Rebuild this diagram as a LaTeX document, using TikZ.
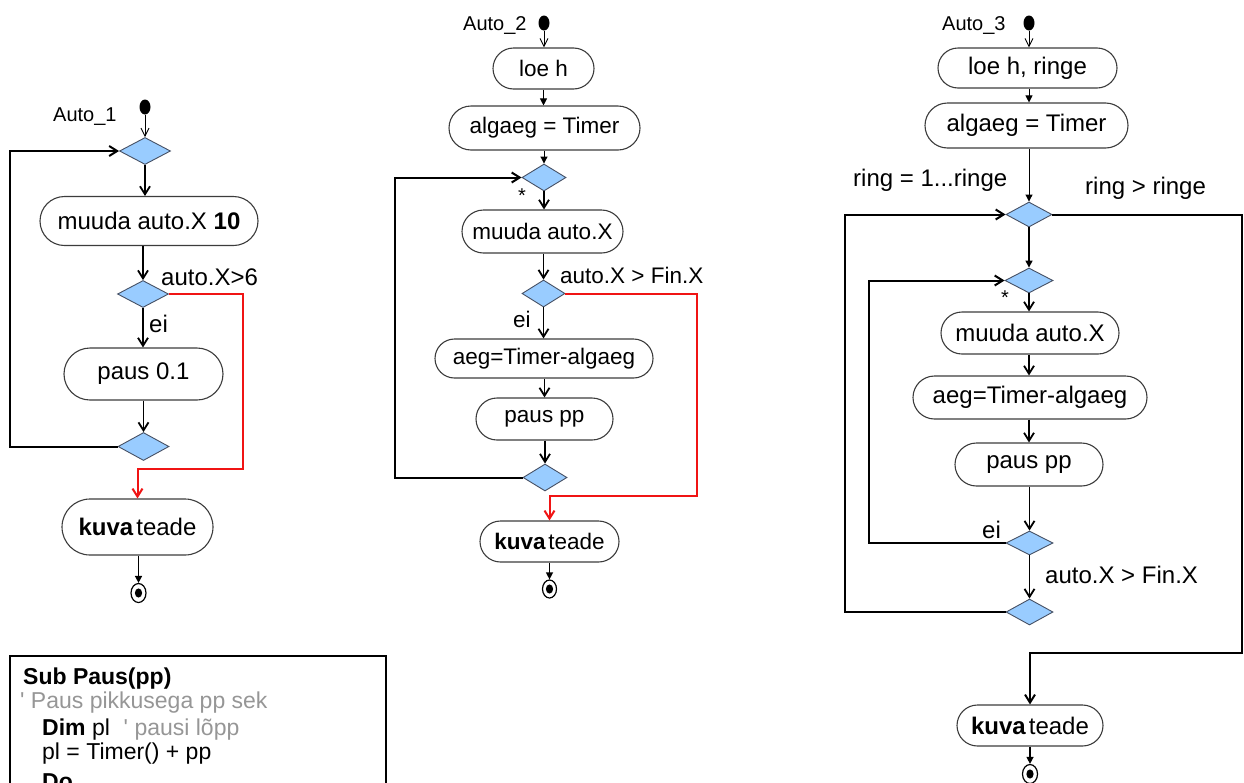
\documentclass[tikz,border=0pt]{standalone}
\usepackage{fontspec}
\setmainfont{Liberation Sans}
\usetikzlibrary{shapes.geometric,shapes.misc,arrows.meta,calc}
\definecolor{decfill}{RGB}{153,204,255}
\definecolor{decline}{RGB}{70,80,100}
\definecolor{boxline}{RGB}{60,60,60}
\definecolor{redl}{RGB}{240,20,20}
\definecolor{codegray}{RGB}{150,150,150}
\newcommand{\FsA}{\fontsize{24}{28}\selectfont}
\newcommand{\FsB}{\fontsize{22.5}{27}\selectfont}
\newcommand{\FsC}{\fontsize{24}{28}\selectfont}
\newcommand{\FsAuto}{\fontsize{20}{24}\selectfont}
\newcommand{\FsCode}{\fontsize{23}{27}\selectfont}
\tikzset{
  proc/.style={rounded rectangle, draw=boxline, line width=1.1pt, fill=white, inner sep=0pt, text=black},
  dec/.style={diamond, draw=decline, fill=decfill, line width=0.9pt, inner sep=0pt},
  startdot/.style={ellipse, fill=black, inner sep=0pt, minimum width=11pt, minimum height=15pt},
  enddot/.style={ellipse, draw=black, line width=1.2pt, fill=white, inner sep=0pt, minimum width=15pt, minimum height=19pt,
    path picture={\fill[black] (path picture bounding box.center) ellipse (3.6pt and 4.6pt);}},
  flow/.style={draw=black, line width=1.8pt, -{Straight Barb[length=8pt,width=10pt]}},
  smallflow/.style={draw=black, line width=1pt, -{Triangle[length=7pt,width=7pt]}},
  startflow/.style={draw=black, line width=0.9pt, -{Straight Barb[length=8pt,width=8pt]}},
  loopline/.style={draw=black, line width=2pt, -{Straight Barb[length=8pt,width=10pt]}},
  redflow/.style={draw=redl, line width=2pt, -{Straight Barb[length=8pt,width=10pt]}},
  lbl/.style={inner sep=0pt, anchor=base west, text=black},
  codeline/.style={inner sep=0pt, anchor=base west, text=black, font=\FsCode},
}
\begin{document}
\begin{tikzpicture}[x=1pt,y=-1pt]
\useasboundingbox (0,0) rectangle (1244,782);
\clip (0,0) rectangle (1244,782);

% ---------------- Column 1 ----------------
\node[lbl, font=\FsAuto] (a1) at (53,121) {Auto\_1};
\node[startdot] (s1) at (145,107) {};
\node[dec, minimum width=51pt, minimum height=27pt] (d11) at (145,151) {};
\node[proc, minimum width=218pt, minimum height=49pt, font=\FsA] (p11) at (149,221) {muuda auto.X \textbf{10}};
\node[dec, minimum width=51pt, minimum height=27pt] (d12) at (143,294) {};
\node[lbl, font=\FsA] (l11) at (161,285) {auto.X>6};
\node[lbl, font=\FsA] (l12) at (149,332) {ei};
\node[proc, minimum width=159pt, minimum height=52pt, font=\FsA] (p12) at (143.5,374) {paus 0.1};
\node[dec, minimum width=51pt, minimum height=28pt] (d13) at (143.5,446.5) {};
\node[proc, minimum width=151pt, minimum height=56pt, font=\FsA] (k1) at (137.5,527) {\textbf{kuva}\hspace{0.12em}teade};
\node[enddot] (e1) at (138.5,593) {};
\coordinate (L1) at (10,300);
\coordinate (r1) at (243,469);

\draw[startflow] (s1.south) -- (s1.south |- d11.north);
\draw[flow] (d11.south) -- (d11.south |- p11.north);
\draw[flow] (p11.south -| d12) -- (d12.north);
\draw[flow] (d12.south) -- (d12.south |- p12.north);
\draw[flow] (p12.south -| d13) -- (d13.north);
\draw[loopline] (d13.west) -- (d13.west -| L1) -- (d11.west -| L1) -- (d11.west);
\draw[redflow] (d12.east) -| (r1) -| (k1.north);
\draw[smallflow, line width=1.5pt] (k1.south -| e1) -- (e1.north);

% ---------------- Column 2 ----------------
\node[lbl, font=\FsAuto] (a2) at (463,30) {Auto\_2};
\node[startdot] (s2) at (544,23) {};
\node[proc, minimum width=101pt, minimum height=41pt, font=\FsB] (b21) at (543.5,68.5) {loe h};
\node[proc, minimum width=191pt, minimum height=44pt, font=\FsB] (b22) at (544.5,128) {algaeg = Timer};
\node[dec, minimum width=44pt, minimum height=27pt] (d21) at (544,177.5) {};
\node[inner sep=0pt, font=\FsAuto] (st2) at (522,196) {*};
\node[proc, minimum width=161pt, minimum height=43pt, font=\FsB] (b23) at (542.5,231.5) {muuda auto.X};
\node[lbl, font=\FsB] (l21) at (560,283) {auto.X > Fin.X};
\node[dec, minimum width=43pt, minimum height=27pt] (d22) at (543.5,293.5) {};
\node[lbl, font=\FsB] (l22) at (513,327) {ei};
\node[proc, minimum width=218pt, minimum height=39pt, font=\FsB] (b24) at (544,358.5) {aeg=Timer-algaeg};
\node[proc, minimum width=137pt, minimum height=42pt, font=\FsB] (b25) at (544.5,419) {paus pp};
\node[dec, minimum width=44pt, minimum height=27pt] (d23) at (545,477.5) {};
\node[proc, minimum width=139pt, minimum height=41pt, font=\FsB] (k2) at (549.5,541.5) {\textbf{kuva}\hspace{0.12em}teade};
\node[enddot, minimum width=14pt, minimum height=18pt] (e2) at (549.5,589) {};
\coordinate (L2) at (395,300);
\coordinate (r2) at (697,496);

\draw[startflow] (s2.south) -- (s2.south |- b21.north);
\draw[smallflow] (b21.south) -- (b21.south |- b22.north);
\draw[smallflow] (b22.south -| d21) -- (d21.north);
\draw[flow] (d21.south) -- (d21.south |- b23.north);
\draw[flow] (b23.south -| d22) -- (d22.north);
\draw[flow] (d22.south) -- (d22.south |- b24.north);
\draw[flow] (b24.south -| b25) -- (b25.north);
\draw[flow] (b25.south -| d23) -- (d23.north);
\draw[loopline] (d23.west) -- (d23.west -| L2) -- (d21.west -| L2) -- (d21.west);
\draw[redflow] (d22.east) -| (r2) -| (k2.north);
\draw[smallflow, line width=1.3pt] (k2.south -| e2) -- (e2.north);

% ---------------- Column 3 ----------------
\node[lbl, font=\FsAuto] (a3) at (942,30) {Auto\_3};
\node[startdot] (s3) at (1029,23) {};
\node[proc, minimum width=179pt, minimum height=40pt, font=\FsC] (b31) at (1027.5,68) {loe h, ringe};
\node[proc, minimum width=203pt, minimum height=45pt, font=\FsC] (b32) at (1026.5,125.5) {algaeg = Timer};
\node[lbl, font=\FsC] (l31) at (853,186) {ring = 1...ringe};
\node[lbl, font=\FsC] (l32) at (1085,194) {ring > ringe};
\node[dec, minimum width=46pt, minimum height=25pt] (d31) at (1029,214.5) {};
\node[dec, minimum width=48pt, minimum height=25pt] (d32) at (1029,280.5) {};
\node[inner sep=0pt, font=\FsAuto] (st3) at (1005,298) {*};
\node[proc, minimum width=178pt, minimum height=42pt, font=\FsC] (b33) at (1030,333) {muuda auto.X};
\node[proc, minimum width=234pt, minimum height=43pt, font=\FsC] (b34) at (1030,397.5) {aeg=Timer-algaeg};
\node[proc, minimum width=148pt, minimum height=43pt, font=\FsC] (b35) at (1029,464.5) {paus pp};
\node[dec, minimum width=47pt, minimum height=24pt] (d33) at (1029.5,543) {};
\node[lbl, font=\FsC] (l33) at (982,538) {ei};
\node[lbl, font=\FsC] (l34) at (1045,583) {auto.X > Fin.X};
\node[dec, minimum width=47pt, minimum height=26pt] (d34) at (1029.5,612) {};
\node[proc, minimum width=146pt, minimum height=41pt, font=\FsC] (k3) at (1030,725.5) {\textbf{kuva}\hspace{0.12em}teade};
\node[enddot] (e3) at (1030,774) {};
\coordinate (L3o) at (845,400);
\coordinate (L3i) at (869,400);
\coordinate (r3) at (1242,653);

\draw[startflow] (s3.south) -- (s3.south |- b31.north);
\draw[smallflow] (b31.south -| s3) -- (s3 |- b32.north);
\draw[smallflow] (b32.south -| d31) -- (d31.north);
\draw[smallflow, line width=1.5pt] (d31.south) -- (d32.north);
\draw[flow] (d32.south) -- (d32.south |- b33.north);
\draw[flow] (b33.south -| d32) -- (d32 |- b34.north);
\draw[flow] (b34.south -| d32) -- (d32 |- b35.north);
\draw[flow] (b35.south -| d33) -- (d33.north);
\draw[flow] (d33.south) -- (d34.north);
\draw[loopline] (d33.west) -- (d33.west -| L3i) -- (d32.west -| L3i) -- (d32.west);
\draw[loopline] (d34.west) -- (d34.west -| L3o) -- (d31.west -| L3o) -- (d31.west);
\draw[loopline] (d31.east) -| (r3) -| (k3.north);
\draw[smallflow, line width=1.3pt] (k3.south -| e3) -- (e3.north);

% ---------------- Code box ----------------
\node[draw=black, line width=2pt, inner sep=0pt, minimum width=376pt, minimum height=160pt, anchor=north west] (code) at (9,655) {};
\node[codeline] (c1) at (23,684) {\textbf{Sub Paus(pp)}};
\node[codeline, text=codegray] (c2) at (20,708) {\textquotesingle\ Paus pikkusega pp sek};
\node[codeline] (c3) at (42,735) {\textbf{Dim} pl\hspace{0.6em}\textcolor{codegray}{\textquotesingle\ pausi lõpp}};
\node[codeline] (c4) at (42,759) {pl = Timer() + pp};
\node[codeline] (c5) at (42,789) {\textbf{Do}};
\end{tikzpicture}
\end{document}
